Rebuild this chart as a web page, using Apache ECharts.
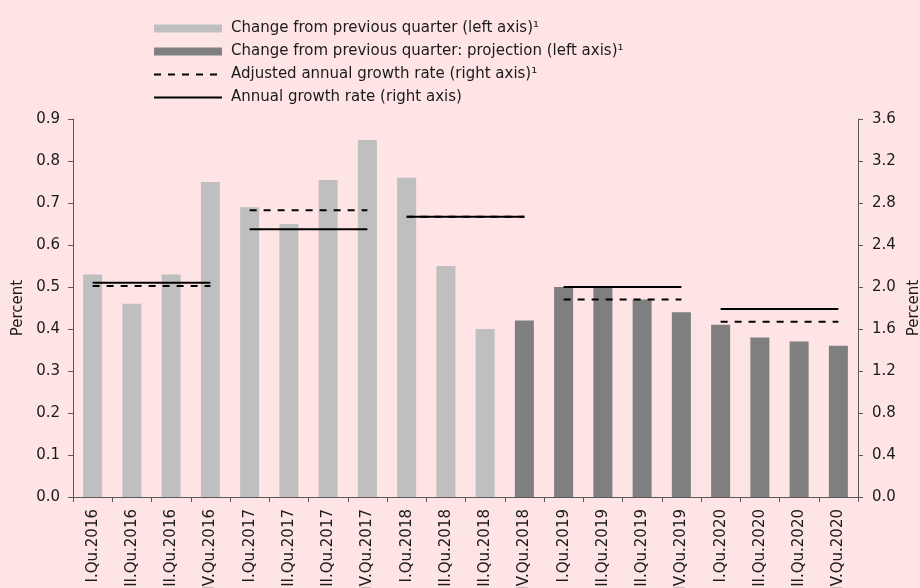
<!DOCTYPE html>
<html>
<head>
<meta charset="utf-8">
<script src="https://cdn.jsdelivr.net/npm/echarts@6/dist/echarts.min.js"></script>
<style>
  html, body { margin: 0; padding: 0; background: #fee4e5; }
  #chart { width: 920px; height: 588px; }
</style>
</head>
<body>
<div id="chart"></div>
<script>
// quarters on the x axis
const quarters = [
  'I.Qu.2016', 'II.Qu.2016', 'III.Qu.2016', 'IV.Qu.2016',
  'I.Qu.2017', 'II.Qu.2017', 'III.Qu.2017', 'IV.Qu.2017',
  'I.Qu.2018', 'II.Qu.2018', 'III.Qu.2018', 'IV.Qu.2018',
  'I.Qu.2019', 'II.Qu.2019', 'III.Qu.2019', 'IV.Qu.2019',
  'I.Qu.2020', 'II.Qu.2020', 'III.Qu.2020', 'IV.Qu.2020'
];
// change from previous quarter, left axis
const actualChange = [0.53, 0.46, 0.53, 0.75, 0.69, 0.65, 0.755, 0.85, 0.76, 0.55, 0.40];
const projectedChange = [0.42, 0.50, 0.50, 0.47, 0.44, 0.41, 0.38, 0.37, 0.36];
// yearly rates, right axis (one value per year 2016..2020)
const adjustedRate = [2.01, 2.73, 2.67, 1.88, 1.67];
const annualRate = [2.04, 2.55, 2.67, 2.00, 1.79];

const NAME_BAR = 'Change from previous quarter (left axis)\u00b9';
const NAME_PROJ = 'Change from previous quarter: projection (left axis)\u00b9';
const NAME_ADJ = 'Adjusted annual growth rate (right axis)\u00b9';
const NAME_ANN = 'Annual growth rate (right axis)';

const FONT = 'DejaVu Sans';
const FS = 15;
const TXT = '#1a1a1a';
const AXIS_COLOR = '#595959';

let barActual = quarters.map((q, i) => i < actualChange.length ? actualChange[i] : null);
let barProj = quarters.map((q, i) => i >= actualChange.length ? projectedChange[i - actualChange.length] : null);

// each year gets its own short horizontal segment
function yearLines(rates, name, type) {
  let out = [];
  for (let y = 0; y < rates.length; y++) {
    let data = quarters.map((q, i) => Math.floor(i / 4) === y ? rates[y] : null);
    out.push({
      name: name,
      type: 'line',
      yAxisIndex: 1,
      data: data,
      symbol: 'none',
      connectNulls: false,
      silent: true,
      lineStyle: { color: '#000', width: 2, type: type },
      itemStyle: { color: '#000' }
    });
  }
  return out;
}

let chart = echarts.init(document.getElementById('chart'));
let option = {
  backgroundColor: '#fee4e5',
  animation: false,
  textStyle: { fontFamily: FONT },
  legend: {
    orient: 'vertical',
    left: 148,
    top: 16,
    itemWidth: 68,
    itemHeight: 8,
    itemGap: 8,
    textStyle: { fontFamily: FONT, fontSize: FS, color: TXT, padding: [0, 0, 0, 4] },
    data: [
      { name: NAME_BAR, icon: 'rect' },
      { name: NAME_PROJ, icon: 'rect' },
      { name: NAME_ADJ, itemStyle: { opacity: 0 } },
      { name: NAME_ANN, itemStyle: { opacity: 0 } }
    ]
  },
  grid: { left: 73, right: 62, top: 119, bottom: 91, containLabel: false, outerBoundsMode: 'none' },
  xAxis: {
    type: 'category',
    data: quarters,
    axisLine: { lineStyle: { color: AXIS_COLOR } },
    axisTick: { show: true, length: 5, lineStyle: { color: AXIS_COLOR } },
    axisLabel: { rotate: 90, interval: 0, fontSize: FS, color: TXT, fontFamily: FONT, margin: 12 }
  },
  yAxis: [
    {
      type: 'value', min: 0, max: 0.9, interval: 0.1,
      name: 'Percent', nameLocation: 'middle', nameGap: 45, nameRotate: 90,
      nameTextStyle: { fontSize: FS, color: TXT, fontFamily: FONT },
      axisLine: { show: true, lineStyle: { color: AXIS_COLOR } },
      axisTick: { show: true, length: 5, lineStyle: { color: AXIS_COLOR } },
      splitLine: { show: false },
      axisLabel: { fontSize: FS, color: TXT, fontFamily: FONT, margin: 13,
        formatter: v => v.toFixed(1) }
    },
    {
      type: 'value', min: 0, max: 3.6, interval: 0.4, position: 'right',
      name: 'Percent', nameLocation: 'middle', nameGap: 44, nameRotate: 90,
      nameTextStyle: { fontSize: FS, color: TXT, fontFamily: FONT },
      axisLine: { show: true, lineStyle: { color: AXIS_COLOR } },
      axisTick: { show: true, length: 5, lineStyle: { color: AXIS_COLOR } },
      splitLine: { show: false },
      axisLabel: { fontSize: FS, color: TXT, fontFamily: FONT, margin: 14,
        formatter: v => v.toFixed(1) }
    }
  ],
  series: [
    {
      name: NAME_BAR, type: 'bar', stack: 'q', data: barActual, barWidth: 19,
      itemStyle: { color: '#bfbfbf' }, silent: true
    },
    {
      name: NAME_PROJ, type: 'bar', stack: 'q', data: barProj, barWidth: 19,
      itemStyle: { color: '#7f7f7f' }, silent: true
    }
  ].concat(yearLines(annualRate, NAME_ANN, 'solid'))
   .concat(yearLines(adjustedRate, NAME_ADJ, [7, 7]))
};
chart.setOption(option);
</script>
</body>
</html>
